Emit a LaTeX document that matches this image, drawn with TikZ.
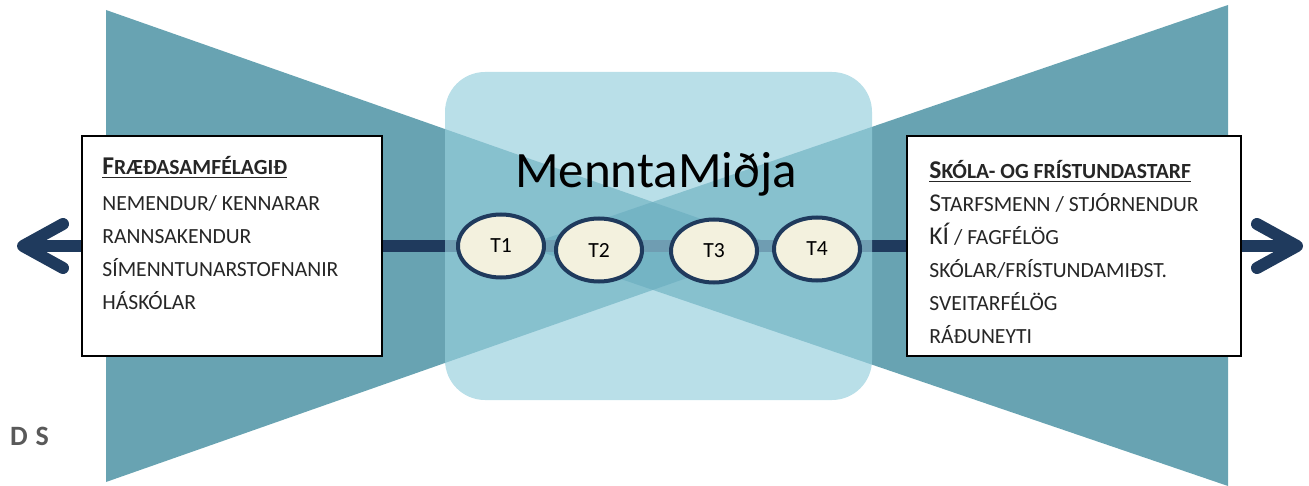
\documentclass[tikz,border=0pt]{standalone}
\usepackage{fontspec}
\setmainfont{Carlito}
\usetikzlibrary{arrows.meta,positioning,shapes.geometric}
\definecolor{mmteal}{RGB}{3,102,127}
\definecolor{mmlight}{RGB}{151,207,221}
\definecolor{mmnavy}{RGB}{31,58,93}
\definecolor{mmcream}{RGB}{243,241,222}
\definecolor{mmgray}{RGB}{89,89,89}
\definecolor{mmtext}{RGB}{38,38,38}
\newcommand{\bgc}[1]{{\fontsize{12.8}{16.5}\selectfont #1}}

\begin{document}
\begin{tikzpicture}[x=0.5pt,y=-0.5pt,
  every node/.style={font=\fontsize{10.8}{16.5}\selectfont,text=mmtext},
  wing/.style={fill=mmteal,fill opacity=0.6},
  hub/.style={fill=mmlight,fill opacity=0.67,rounded corners=20pt,minimum width=213.5pt,minimum height=164pt,inner sep=0pt},
  group/.style={draw=black,line width=1pt,fill=white,minimum height=110pt,inner sep=0pt},
  list/.style={align=left,anchor=north west,inner sep=0pt},
  topic/.style={ellipse,draw=mmnavy,line width=2pt,fill=mmcream,minimum width=43pt,minimum height=31.5pt,inner sep=0pt,text=black},
  bar/.style={mmnavy,line width=6pt},
  >={Straight Barb[length=20pt,width=22pt,round]}
]
\useasboundingbox (0,0) rectangle (1309,486);
% bow tie
\fill[wing] (106,10) -- (106,482) -- (778,246) -- cycle;
\fill[wing] (1228,5) -- (1228,486) -- (524,246) -- cycle;

% side boxes and the axis
\node[group,minimum width=150pt] (lbox) at (232,246) {};
\node[group,minimum width=167pt] (rbox) at (1074,246) {};
\coordinate (ltip) at (17,246);
\coordinate (rtip) at (1303,246);
\draw[bar,->] (lbox.west) -- (ltip);
\draw[bar,->] (rbox.east) -- (rtip);
\draw[bar] (lbox.east) -- (rbox.west);

% centre
\node[hub] (hub) at (658.5,236) {};
\node[anchor=base,font=\fontsize{25.5}{30}\selectfont,text=black] (name) at (656,188) {MenntaMiðja};
\node[topic] (t1) at (501,246) {T1};
\node[topic] (t2) at (599,250) {T2};
\node[topic] (t3) at (714,251) {T3};
\node[topic] (t4) at (817,249) {T4};

% box texts
\node[list] (ltext) at ([xshift=10.5pt,yshift=-10.5pt]lbox.north west)
  {\textbf{\underline{\bgc{F}RÆÐASAMFÉLAGIÐ}}\\[1.5pt]
   NEMENDUR/ KENNARAR\\
   RANNSAKENDUR\\
   SÍMENNTUNARSTOFNANIR\\
   HÁSKÓLAR};
\node[list] (rtext) at ([xshift=11.5pt,yshift=-12.5pt]rbox.north west)
  {\textbf{\underline{\bgc{S}KÓLA- OG FRÍSTUNDASTARF}}\\
   \bgc{S}TARFSMENN / STJÓRNENDUR\\
   \bgc{KÍ} / FAGFÉLÖG\\
   SKÓLAR/FRÍSTUNDAMIÐST.\\
   SVEITARFÉLÖG\\
   RÁÐUNEYTI};

\node[anchor=base west,font=\bfseries\fontsize{14}{16}\selectfont,text=mmgray] (ds) at (3,445) {D\hspace{4pt}S};
\end{tikzpicture}
\end{document}
